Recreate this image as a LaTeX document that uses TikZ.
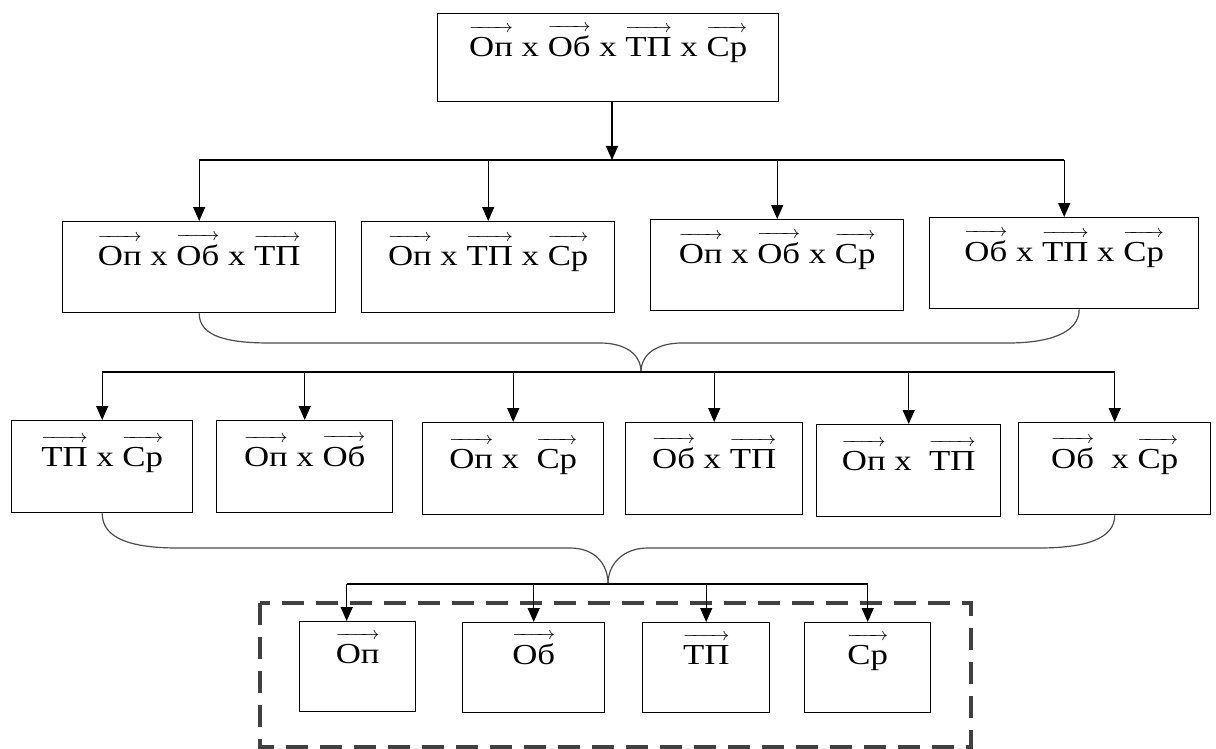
\documentclass[tikz,border=0pt]{standalone}
\usepackage{fontspec}
\setmainfont{Liberation Serif}[FakeStretch=1.2]
\usetikzlibrary{arrows.meta}

\newcommand\ovec[1]{\vbox{\offinterlineskip\halign{##\cr
    {\fontsize{9}{9}\selectfont\rightarrowfill}\cr
    \noalign{\kern2pt}
    \vrule height 10pt width 0pt\relax#1\cr}}}

\begin{document}
\begin{tikzpicture}[
    x=0.5pt, y=-0.5pt,
    box/.style={rectangle, draw, line width=0.7pt, anchor=north west, inner sep=0pt, font=\fontsize{14.5}{17}\selectfont},
    row2/.style={box, text height=22pt, text depth=23.5pt},
    row3/.style={box, text height=23pt, text depth=23pt},
    row4/.style={box, text height=21pt, text depth=24pt},
    arrow/.style={line width=0.65pt, -{Triangle[length=7pt,width=6pt]}},
    bus/.style={line width=0.65pt},
    brace/.style={line width=0.6pt, black!70},
    group/.style={draw=black!75, line width=1.8pt, dash pattern=on 11pt off 6pt}
]
    \useasboundingbox (0,0) rectangle (1216,749);

    % Top box
    \node [box, text height=21.5pt, text depth=22.5pt, minimum width=170.5pt] (top) at (437,13)
        {\ovec{Оп} х \ovec{Об} х \ovec{ТП} х \ovec{Ср}};

    % Triples
    \node [row2, minimum width=136.5pt] (a1) at (62,221) {\ovec{Оп} х \ovec{Об} х \ovec{ТП}};
    \node [row2, minimum width=126.5pt] (b1) at (361,221) {\ovec{Оп} х \ovec{ТП} х \ovec{Ср}};
    \node [row2, minimum width=126.5pt] (c1) at (650,219) {\ovec{Оп} х \ovec{Об} х \ovec{Ср}};
    \node [row2, minimum width=134.5pt] (d1) at (929,217) {\ovec{Об} х \ovec{ТП} х \ovec{Ср}};

    % Pairs
    \node [row3, minimum width=90.5pt] (p1) at (11,420) {\ovec{ТП} х \ovec{Ср}};
    \node [row3, minimum width=88pt] (p2) at (216,420) {\ovec{Оп} х \ovec{Об}};
    \node [row3, minimum width=90.5pt] (p3) at (422,422) {\ovec{Оп} х\ \ \ovec{Ср}};
    \node [row3, minimum width=88.5pt] (p4) at (625,422) {\ovec{Об} х \ovec{ТП}};
    \node [row3, minimum width=92pt] (p5) at (816,424) {\ovec{Оп} х\ \ \ovec{ТП}};
    \node [row3, minimum width=96pt] (p6) at (1018,422) {\ovec{Об}\ \ х \ovec{Ср}};

    % Singles
    \draw [group] (260,603) rectangle (971,747);
    \node [row4, minimum width=58pt] (s1) at (299,621) {\ovec{Оп}};
    \node [row4, minimum width=71pt] (s2) at (462,622) {\ovec{Об}};
    \node [row4, minimum width=63.5pt] (s3) at (642,622) {\ovec{ТП}};
    \node [row4, minimum width=63pt] (s4) at (804,622) {\ovec{Ср}};

    % Top to triples
    \coordinate (bus1) at (612,160);
    \draw [arrow] (top.south -| bus1) -- (bus1);
    \draw [bus] (a1.north |- bus1) -- (d1.north |- bus1);
    \foreach \n in {a1,b1,c1,d1}
        \draw [arrow] (\n.north |- bus1) -- (\n.north);

    % Brace under triples
    \coordinate (tip1) at (641,372);
    \draw [brace] (a1.south) .. controls +(0,24) and +(-40,0) .. (270,343)
        -- (600,343) .. controls +(25,0) and +(0,-18) .. (tip1);
    \draw [brace] ([xshift=7.5pt]d1.south) .. controls +(0,24) and +(40,0) .. (1008,343)
        -- (682,343) .. controls +(-25,0) and +(0,-18) .. (tip1);
    \draw [bus] (p1.north |- tip1) -- (p6.north |- tip1);
    \foreach \n in {p1,p2,p3,p4,p5,p6}
        \draw [arrow] (\n.north |- tip1) -- (\n.north);

    % Brace under pairs
    \coordinate (tip2) at (608,584);
    \draw [brace] (p1.south) .. controls +(0,26) and +(-45,0) .. (178,548)
        -- (570,548) .. controls +(25,0) and +(0,-20) .. (tip2);
    \draw [brace] (p6.south) .. controls +(0,24) and +(45,0) .. (1039,548)
        -- (648,548) .. controls +(-25,0) and +(0,-20) .. (tip2);
    \draw [bus] ([xshift=-5.5pt]s1.north |- tip2) -- (s4.north |- tip2);
    \draw [arrow] ([xshift=-5.5pt]s1.north |- tip2) -- ([xshift=-5.5pt]s1.north);
    \foreach \n in {s2,s3,s4}
        \draw [arrow] (\n.north |- tip2) -- (\n.north);
\end{tikzpicture}
\end{document}
